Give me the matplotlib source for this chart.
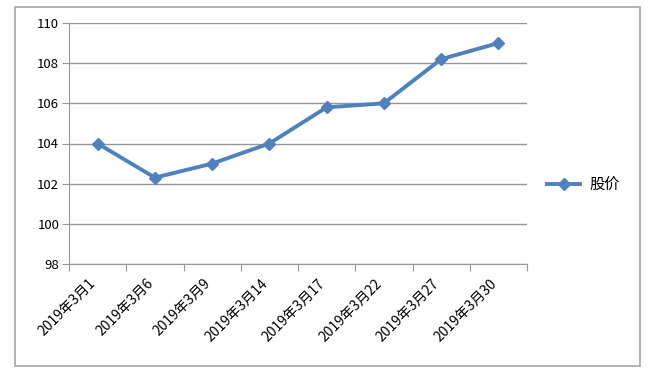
import matplotlib.pyplot as plt
from matplotlib.patches import Rectangle
from matplotlib.transforms import ScaledTranslation

plt.rcParams['font.family'] = ['Noto Sans CJK SC', 'DejaVu Sans']

# data
dates = ["2019年3月1", "2019年3月6", "2019年3月9", "2019年3月14",
         "2019年3月17", "2019年3月22", "2019年3月27", "2019年3月30"]
prices = [104.0, 102.3, 103.0, 104.0, 105.8, 106.0, 108.2, 109.0]
yticks = [98, 100, 102, 104, 106, 108, 110]

fig = plt.figure(figsize=(6.54, 3.73), dpi=100)
ax = fig.add_axes([69 / 654, 1 - 264 / 373, (527 - 69) / 654, (264 - 23) / 373])

# outer chart border
fig.patches.append(Rectangle((15 / 654, 1 - 366 / 373), 625 / 654, 359 / 373,
                             transform=fig.transFigure, fill=False,
                             edgecolor='#a6a6a6', linewidth=1.2))

x = list(range(len(dates)))
ax.plot(x, prices, color='#4f81bd', linewidth=2.8, marker='D', markersize=6.5,
        label='股价', zorder=3)

ax.set_xlim(-0.5, len(dates) - 0.5)
ax.set_ylim(98, 110)
ax.set_yticks(yticks)
ax.set_yticklabels([str(v) for v in yticks], fontsize=9.5)
ax.yaxis.grid(True, color='#969696', linewidth=1)
ax.set_axisbelow(True)

# category ticks at boundaries, labels at centres
ax.set_xticks([i - 0.5 for i in range(len(dates) + 1)])
ax.set_xticklabels([])
ax.set_xticks(x, minor=True)
ax.set_xticklabels(dates, minor=True, rotation=45, ha='right', va='top',
                   rotation_mode='anchor', fontsize=10)
ax.tick_params(axis='x', which='major', length=5, color='#969696')
ax.tick_params(axis='x', which='minor', length=0, pad=9)
ax.tick_params(axis='y', length=5, color='#969696', pad=2)

# nudge the rotated labels a little to the left, like the original
shift = ScaledTranslation(-9 / 100, 0, fig.dpi_scale_trans)
for lbl in ax.get_xticklabels(minor=True):
    lbl.set_transform(lbl.get_transform() + shift)

for side in ['top', 'right']:
    ax.spines[side].set_visible(False)
for side in ['left', 'bottom']:
    ax.spines[side].set_color('#969696')

ax.legend(loc='center left', bbox_to_anchor=(1.03, 0.33), frameon=False,
          fontsize=11, handlelength=2.2, handletextpad=0.6, borderaxespad=0)

fig.savefig('out.png', dpi=100)
